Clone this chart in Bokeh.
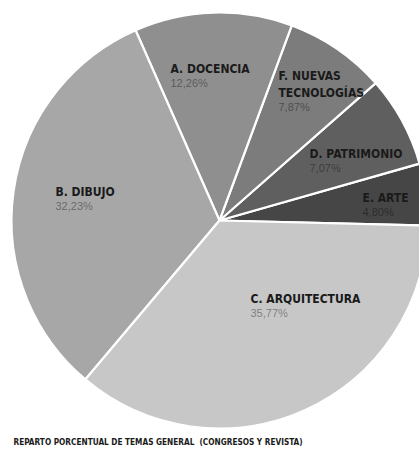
import math
from bokeh.plotting import figure
from bokeh.models import ColumnDataSource, Range1d
from bokeh.core.properties import value
from bokeh.embed import file_html
from bokeh.resources import INLINE

# Topics in drawing order (anticlockwise from the right)
categories = ["E. ARTE", "D. PATRIMONIO", "F. NUEVAS\nTECNOLOGÍAS",
              "A. DOCENCIA", "B. DIBUJO", "C. ARQUITECTURA"]
percentages = [4.80, 7.07, 7.87, 12.26, 32.23, 35.77]
slice_colors = ["#464646", "#5f5f5f", "#7c7c7c", "#8f8f8f", "#a7a7a7", "#c7c7c7"]
title = "REPARTO PORCENTUAL DE TEMAS GENERAL\u00a0\u00a0(CONGRESOS Y REVISTA)"

W, H = 419, 451
CX, CY, R = 219, H - 220, 208
START_DEG = -1.4

# label anchors (left x, baseline y of the name measured from the top)
label_pos = [(362, 197), (309, 153), (278, 75), (170, 68), (55, 191), (250, 298)]

BOLD_FONT = "'DejaVu Sans Condensed', 'Liberation Sans Narrow', sans-serif"
REG_FONT = "'Liberation Sans', Arial, sans-serif"

total = sum(percentages)
starts, ends = [], []
acc = math.radians(START_DEG)
for v in percentages:
    starts.append(acc)
    acc += 2 * math.pi * v / total
    ends.append(acc)

wedges = ColumnDataSource(dict(
    x=[CX] * len(categories), y=[CY] * len(categories),
    start=starts, end=ends, color=slice_colors,
))

p = figure(width=W, height=H, output_backend="svg", toolbar_location=None,
           x_range=Range1d(0, W), y_range=Range1d(0, H),
           min_border=0, outline_line_color=None, background_fill_color="white")
p.axis.visible = False
p.grid.visible = False

p.wedge(x="x", y="y", radius=R, start_angle="start", end_angle="end",
        fill_color="color", line_color="white", line_width=2.2, source=wedges)

name_x, name_y, name_t = [], [], []
pct_x, pct_y, pct_t = [], [], []
for cat, v, (lx, ly) in zip(categories, percentages, label_pos):
    lines = cat.split("\n")
    for i, line in enumerate(lines):
        name_x.append(lx)
        name_y.append(H - (ly + 17 * i))
        name_t.append(line)
    pct_x.append(lx)
    pct_y.append(H - (ly + 17 * (len(lines) - 1) + 14))
    pct_t.append(f"{v:.2f}".replace(".", ",") + "%")

p.text(x=name_x, y=name_y, text=name_t, text_font=value(BOLD_FONT),
       text_font_style="bold", text_font_size="12px", text_color="#1a1a1a",
       text_baseline="alphabetic", text_align="left")
p.text(x=pct_x, y=pct_y, text=pct_t, text_font=value(REG_FONT),
       text_font_size="11px", text_color="black", text_alpha=0.4,
       text_baseline="alphabetic", text_align="left")

p.text(x=[13], y=[H - 441], text=[title], text_font=value(BOLD_FONT),
       text_font_style="bold", text_font_size="8.2px", text_color="#1a1a1a",
       text_baseline="alphabetic", text_align="left")

open("out.html", "w").write(file_html(p, INLINE))
